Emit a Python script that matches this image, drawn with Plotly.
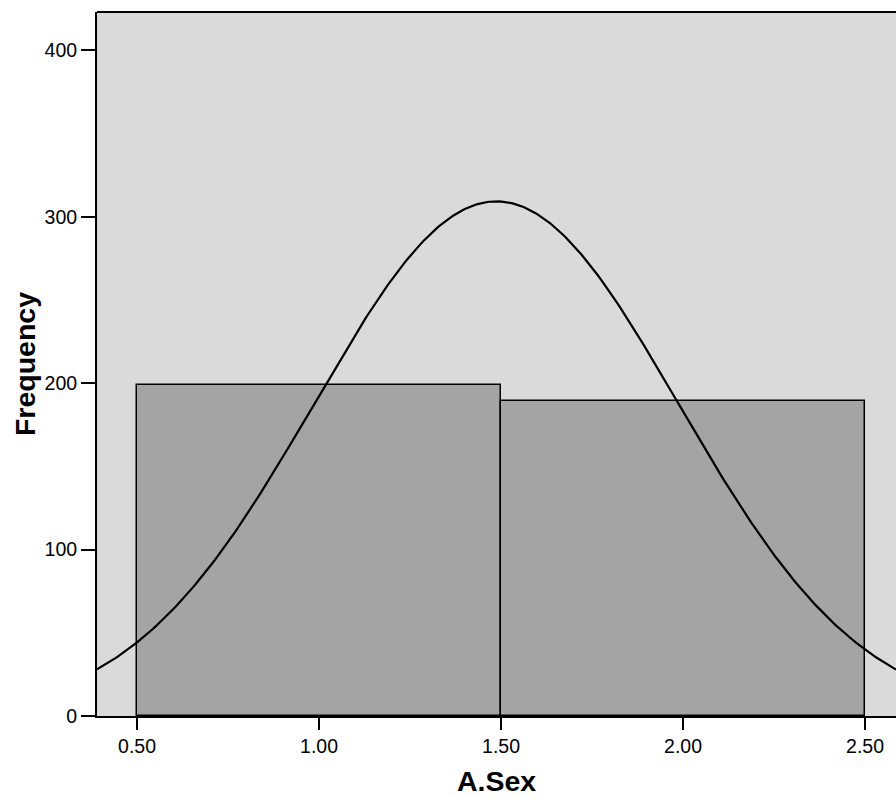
import numpy as np
import plotly.graph_objects as go

# Data
bin_centers = [1.0, 2.0]
bin_counts = [199, 189]
bin_width = 1.0
x_tick_vals = [0.5, 1.0, 1.5, 2.0, 2.5]
x_tick_text = ["0.50", "1.00", "1.50", "2.00", "2.50"]
y_tick_vals = [0, 100, 200, 300, 400]
y_tick_text = ["0", "100", "200", "300", "400"]

# Normal curve parameters (fitted to the data shown)
n_total = sum(bin_counts)
mean = sum(c * x for c, x in zip(bin_counts, bin_centers)) / n_total
std = 0.5006

x_range = [0.39, 2.585]
y_range = [0, 423]

xs = np.linspace(x_range[0], x_range[1], 400)
ys = n_total * bin_width / (std * np.sqrt(2 * np.pi)) * np.exp(-0.5 * ((xs - mean) / std) ** 2)

fig = go.Figure()
fig.add_trace(go.Bar(
    x=bin_centers, y=bin_counts, width=bin_width,
    marker=dict(color="#a4a4a4", line=dict(color="black", width=1.5)),
    showlegend=False,
))
fig.add_trace(go.Scatter(
    x=xs, y=ys, mode="lines",
    line=dict(color="black", width=2.2),
    showlegend=False,
))

fig.update_layout(
    width=896, height=797,
    margin=dict(l=97, r=0, t=12, b=81),
    paper_bgcolor="white",
    plot_bgcolor="#dadada",
    font=dict(family="Liberation Sans, Arial, sans-serif", color="black", size=19.5),
    bargap=0,
    shapes=[dict(type="line", xref="paper", yref="paper", x0=0, x1=1, y0=1, y1=1,
                 line=dict(color="black", width=2))],
)
fig.update_xaxes(
    range=x_range, tickvals=x_tick_vals, ticktext=x_tick_text,
    showgrid=False, zeroline=False, showline=True, linecolor="black", linewidth=2,
    ticks="outside", ticklen=12, tickwidth=2, tickcolor="black",
    title=dict(text="<b>A.Sex</b>", font=dict(size=28.5), standoff=15),
    tickfont=dict(size=19.5),
)
fig.update_yaxes(
    range=y_range, tickvals=y_tick_vals, ticktext=y_tick_text,
    showgrid=False, zeroline=False, showline=True, linecolor="black", linewidth=2,
    ticks="outside", ticklen=14, tickwidth=2, tickcolor="black",
    title=dict(text="<b>Frequency</b>", font=dict(size=28.5), standoff=1),
    tickfont=dict(size=19.5),
)

fig.write_html("out.html", config={"displayModeBar": False},
               post_script="document.body.style.margin='0';document.body.style.overflow='hidden';")
